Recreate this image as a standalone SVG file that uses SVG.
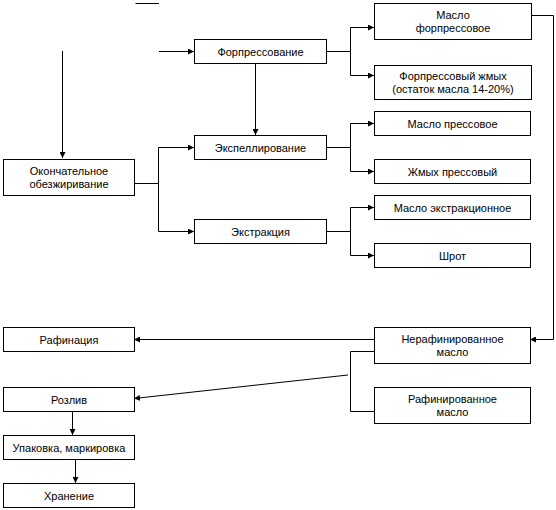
<svg xmlns="http://www.w3.org/2000/svg" width="556" height="510" viewBox="0 0 556 510">
<defs>
<marker id="a" viewBox="0 0 6 6" refX="6" refY="3" markerWidth="6" markerHeight="6" markerUnits="userSpaceOnUse" orient="auto"><path d="M0,0 L6,3 L0,6 Z" fill="#000"/></marker>
</defs>
<style>
rect{fill:#fff;stroke:#000;stroke-width:1}
text{font-family:"Liberation Sans",Arial,sans-serif;font-size:11px;fill:#000;text-anchor:middle}
.c path{fill:none;stroke:#000;stroke-width:1}
.m{marker-end:url(#a)}
</style>
<rect x="0" y="0" width="556" height="510" style="fill:#fff;stroke:none"/>
<g class="c">
<path d="M135.5,3.5 H159"/>
<path class="m" d="M62.5,51 V158"/>
<path class="m" d="M159,51.5 H194"/>
<path class="m" d="M255.5,63 V135"/>
<path d="M134,183.5 H158.5 V147.5"/>
<path class="m" d="M158.5,147.5 H194"/>
<path class="m" d="M158.5,183 V231.5 H194"/>
<path d="M326,51.5 H350.5"/>
<path class="m" d="M350.5,51.5 V27.5 H374"/>
<path class="m" d="M350.5,51 V75.5 H374"/>
<path d="M326,147.5 H350.5"/>
<path class="m" d="M350.5,147.5 V123.5 H374"/>
<path class="m" d="M350.5,147 V171.5 H374"/>
<path d="M326,231.5 H350.5"/>
<path class="m" d="M350.5,231.5 V207.5 H374"/>
<path class="m" d="M350.5,231 V255.5 H374"/>
<path class="m" d="M531,15.5 H553.5 V339.5 H530"/>
<path class="m" d="M374,339.5 H134"/>
<path d="M374,351.5 H350.5 V411.5 H374"/>
<path class="m" d="M348,375 L134,398.5"/>
<path class="m" d="M72.5,411 V435"/>
<path class="m" d="M75.5,459 V483"/>
</g>
<g id="n1"><rect x="3.5" y="159.5" width="131" height="36"/><text x="69" y="174.5">Окончательное</text><text x="69" y="187.5">обезжиривание</text></g>
<g id="n2"><rect x="194.5" y="39.5" width="132" height="24"/><text x="260.5" y="55.5">Форпрессование</text></g>
<g id="n3"><rect x="194.5" y="135.5" width="132" height="24"/><text x="260.5" y="151.5">Экспеллирование</text></g>
<g id="n4"><rect x="194.5" y="219.5" width="132" height="24"/><text x="260.5" y="235.5">Экстракция</text></g>
<g id="n5"><rect x="374.5" y="3.5" width="157" height="36"/><text x="453" y="18.5">Масло</text><text x="453" y="31.5">форпрессовое</text></g>
<g id="n6"><rect x="374.5" y="65.5" width="157" height="34"/><text x="453" y="79.5">Форпрессовый жмых</text><text x="453" y="92.5">(остаток масла 14-20%)</text></g>
<g id="n7"><rect x="374.5" y="111.5" width="156" height="24"/><text x="452.5" y="127.5">Масло прессовое</text></g>
<g id="n8"><rect x="374.5" y="159.5" width="156" height="24"/><text x="452.5" y="175.5">Жмых прессовый</text></g>
<g id="n9"><rect x="374.5" y="195.5" width="156" height="24"/><text x="452.5" y="211.5">Масло экстракционное</text></g>
<g id="n10"><rect x="374.5" y="243.5" width="156" height="24"/><text x="452.5" y="259.5">Шрот</text></g>
<g id="n11"><rect x="374.5" y="327.5" width="156" height="36"/><text x="452.5" y="342.5">Нерафинированное</text><text x="452.5" y="355.5">масло</text></g>
<g id="n12"><rect x="374.5" y="387.5" width="156" height="36"/><text x="452.5" y="402.5">Рафинированное</text><text x="452.5" y="415.5">масло</text></g>
<g id="n13"><rect x="3.5" y="327.5" width="131" height="24"/><text x="69" y="343.5">Рафинация</text></g>
<g id="n14"><rect x="3.5" y="387.5" width="131" height="24"/><text x="69" y="403.5">Розлив</text></g>
<g id="n15"><rect x="3.5" y="435.5" width="131" height="24"/><text x="69" y="451.5">Упаковка, маркировка</text></g>
<g id="n16"><rect x="3.5" y="483.5" width="131" height="24"/><text x="69" y="499.5">Хранение</text></g>
</svg>
